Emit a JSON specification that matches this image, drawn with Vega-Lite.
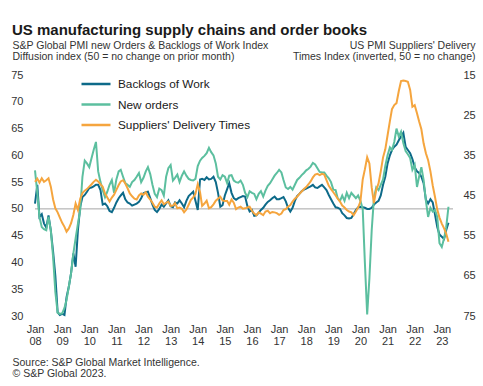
{
 "$schema": "https://vega.github.io/schema/vega-lite/v6.json",
 "width": 418,
 "height": 241,
 "autosize": {"type": "none"},
 "padding": {"left": 35, "top": 75, "right": 30, "bottom": 70},
 "background": "white",
 "config": {
  "font": "Liberation Sans",
  "view": {"stroke": null},
  "axis": {"grid": false, "domain": false, "ticks": false, "labelFont": "Liberation Sans", "labelFontSize": 11, "labelColor": "#333333", "titleFont": "Liberation Sans", "titleFontWeight": "normal", "titleColor": "#333333"}
 },
 "title": {"text": "US manufacturing supply chains and order books", "anchor": "start", "frame": "group", "dx": -23, "dy": 2, "fontSize": 15, "fontWeight": "bold", "color": "#1a1a1a", "font": "Liberation Sans"},
 "datasets": {
  "pmi": [
   {"date":"2008-01-01","backlogs":51,"new_orders":57.2,"delivery":41.6},
   {"date":"2008-02-01","backlogs":54.5,"new_orders":53,"delivery":40.8},
   {"date":"2008-03-01","backlogs":48.5,"new_orders":48.5,"delivery":41.8},
   {"date":"2008-04-01","backlogs":49,"new_orders":46.6,"delivery":40.7},
   {"date":"2008-05-01","backlogs":47.3,"new_orders":46.2,"delivery":41.6},
   {"date":"2008-06-01","backlogs":46.5,"new_orders":46,"delivery":41.2},
   {"date":"2008-07-01","backlogs":48.8,"new_orders":48.5,"delivery":40.7},
   {"date":"2008-08-01","backlogs":46,"new_orders":46,"delivery":42.8},
   {"date":"2008-09-01","backlogs":42,"new_orders":41,"delivery":46},
   {"date":"2008-10-01","backlogs":37.5,"new_orders":34.5,"delivery":48.2},
   {"date":"2008-11-01","backlogs":30.7,"new_orders":30.6,"delivery":49.2},
   {"date":"2008-12-01","backlogs":30.2,"new_orders":30.4,"delivery":50.5},
   {"date":"2009-01-01","backlogs":30.4,"new_orders":30.5,"delivery":51.8},
   {"date":"2009-02-01","backlogs":30.2,"new_orders":31.5,"delivery":52.8},
   {"date":"2009-03-01","backlogs":33.5,"new_orders":33,"delivery":54},
   {"date":"2009-04-01","backlogs":35.5,"new_orders":35.5,"delivery":53.2},
   {"date":"2009-05-01","backlogs":38,"new_orders":38,"delivery":51.9},
   {"date":"2009-06-01","backlogs":41.7,"new_orders":41.7,"delivery":49.8},
   {"date":"2009-07-01","backlogs":39.2,"new_orders":44.5,"delivery":47},
   {"date":"2009-08-01","backlogs":46,"new_orders":47.2,"delivery":48.6},
   {"date":"2009-09-01","backlogs":50.4,"new_orders":49.8,"delivery":45.8},
   {"date":"2009-10-01","backlogs":52.2,"new_orders":56,"delivery":44.4},
   {"date":"2009-11-01","backlogs":52.6,"new_orders":59,"delivery":43.8},
   {"date":"2009-12-01","backlogs":53.2,"new_orders":58.5,"delivery":43.4},
   {"date":"2010-01-01","backlogs":53.9,"new_orders":57.8,"delivery":42.8},
   {"date":"2010-02-01","backlogs":54,"new_orders":59.5,"delivery":42.2},
   {"date":"2010-03-01","backlogs":54.2,"new_orders":61,"delivery":41.6},
   {"date":"2010-04-01","backlogs":54.5,"new_orders":62.5,"delivery":41.1},
   {"date":"2010-05-01","backlogs":54.5,"new_orders":57,"delivery":41.5},
   {"date":"2010-06-01","backlogs":53.5,"new_orders":55,"delivery":42.2},
   {"date":"2010-07-01","backlogs":50.8,"new_orders":53.5,"delivery":42.8},
   {"date":"2010-08-01","backlogs":51,"new_orders":52.2,"delivery":44.5},
   {"date":"2010-09-01","backlogs":50.5,"new_orders":53.2,"delivery":45.5},
   {"date":"2010-10-01","backlogs":49.6,"new_orders":54.5,"delivery":46.5},
   {"date":"2010-11-01","backlogs":49.4,"new_orders":55.4,"delivery":45.5},
   {"date":"2010-12-01","backlogs":50.2,"new_orders":53,"delivery":44.8},
   {"date":"2011-01-01","backlogs":51.2,"new_orders":55.5,"delivery":43.6},
   {"date":"2011-02-01","backlogs":52,"new_orders":57,"delivery":42.4},
   {"date":"2011-03-01","backlogs":52.5,"new_orders":57.3,"delivery":41.5},
   {"date":"2011-04-01","backlogs":53,"new_orders":56,"delivery":41.2},
   {"date":"2011-05-01","backlogs":51.8,"new_orders":54.8,"delivery":42},
   {"date":"2011-06-01","backlogs":51.2,"new_orders":54.5,"delivery":43.2},
   {"date":"2011-07-01","backlogs":51,"new_orders":54.1,"delivery":44.5},
   {"date":"2011-08-01","backlogs":50.6,"new_orders":55,"delivery":45.2},
   {"date":"2011-09-01","backlogs":50.8,"new_orders":55.4,"delivery":45.8},
   {"date":"2011-10-01","backlogs":51,"new_orders":56,"delivery":46},
   {"date":"2011-11-01","backlogs":51.3,"new_orders":56.7,"delivery":45},
   {"date":"2011-12-01","backlogs":52,"new_orders":55,"delivery":44.5},
   {"date":"2012-01-01","backlogs":52.9,"new_orders":55.8,"delivery":44.8},
   {"date":"2012-02-01","backlogs":53.1,"new_orders":57,"delivery":44.2},
   {"date":"2012-03-01","backlogs":53.2,"new_orders":57.8,"delivery":45.3},
   {"date":"2012-04-01","backlogs":52,"new_orders":56.5,"delivery":46},
   {"date":"2012-05-01","backlogs":50.8,"new_orders":54.5,"delivery":46.8},
   {"date":"2012-06-01","backlogs":49.8,"new_orders":52.8,"delivery":47.8},
   {"date":"2012-07-01","backlogs":49.4,"new_orders":52.2,"delivery":48},
   {"date":"2012-08-01","backlogs":50,"new_orders":53.8,"delivery":47},
   {"date":"2012-09-01","backlogs":50.8,"new_orders":53.5,"delivery":46.2},
   {"date":"2012-10-01","backlogs":50.4,"new_orders":52.5,"delivery":47.2},
   {"date":"2012-11-01","backlogs":51,"new_orders":56,"delivery":46.8},
   {"date":"2012-12-01","backlogs":51.6,"new_orders":57.6,"delivery":46.5},
   {"date":"2013-01-01","backlogs":50.5,"new_orders":58.2,"delivery":47.6},
   {"date":"2013-02-01","backlogs":50.3,"new_orders":55.3,"delivery":47.5},
   {"date":"2013-03-01","backlogs":51.2,"new_orders":55.8,"delivery":46.9},
   {"date":"2013-04-01","backlogs":51,"new_orders":56.4,"delivery":48.2},
   {"date":"2013-05-01","backlogs":51.6,"new_orders":55,"delivery":48},
   {"date":"2013-06-01","backlogs":51,"new_orders":56.2,"delivery":48.3},
   {"date":"2013-07-01","backlogs":50.3,"new_orders":57,"delivery":49.2},
   {"date":"2013-08-01","backlogs":51.5,"new_orders":56.2,"delivery":48.5},
   {"date":"2013-09-01","backlogs":52.4,"new_orders":55.6,"delivery":47.3},
   {"date":"2013-10-01","backlogs":52.8,"new_orders":55.4,"delivery":46.1},
   {"date":"2013-11-01","backlogs":53.2,"new_orders":55.3,"delivery":45.5},
   {"date":"2013-12-01","backlogs":51.5,"new_orders":55.6,"delivery":44.6},
   {"date":"2014-01-01","backlogs":49.8,"new_orders":58,"delivery":42.2},
   {"date":"2014-02-01","backlogs":55.5,"new_orders":59,"delivery":44.2},
   {"date":"2014-03-01","backlogs":55.6,"new_orders":59.5,"delivery":47.6},
   {"date":"2014-04-01","backlogs":55.4,"new_orders":59.9,"delivery":47},
   {"date":"2014-05-01","backlogs":55.9,"new_orders":60.4,"delivery":46.3},
   {"date":"2014-06-01","backlogs":55.5,"new_orders":61.4,"delivery":48.2},
   {"date":"2014-07-01","backlogs":55.6,"new_orders":60.6,"delivery":47.9},
   {"date":"2014-08-01","backlogs":56,"new_orders":60,"delivery":47.2},
   {"date":"2014-09-01","backlogs":55,"new_orders":58.5,"delivery":46.3},
   {"date":"2014-10-01","backlogs":53,"new_orders":56,"delivery":45.8},
   {"date":"2014-11-01","backlogs":50.4,"new_orders":55.5,"delivery":45.3},
   {"date":"2014-12-01","backlogs":50.7,"new_orders":56.3,"delivery":46.2},
   {"date":"2015-01-01","backlogs":52.5,"new_orders":56,"delivery":46.4},
   {"date":"2015-02-01","backlogs":53.7,"new_orders":54.8,"delivery":46.4},
   {"date":"2015-03-01","backlogs":54.8,"new_orders":56.2,"delivery":47.3},
   {"date":"2015-04-01","backlogs":53,"new_orders":56.3,"delivery":46},
   {"date":"2015-05-01","backlogs":52,"new_orders":55.3,"delivery":46.8},
   {"date":"2015-06-01","backlogs":51.7,"new_orders":55,"delivery":48.4},
   {"date":"2015-07-01","backlogs":52,"new_orders":54.9,"delivery":48},
   {"date":"2015-08-01","backlogs":52.2,"new_orders":55.3,"delivery":47.8},
   {"date":"2015-09-01","backlogs":52.4,"new_orders":54.5,"delivery":48.3},
   {"date":"2015-10-01","backlogs":52.3,"new_orders":53,"delivery":48.2},
   {"date":"2015-11-01","backlogs":50.5,"new_orders":52.2,"delivery":48},
   {"date":"2015-12-01","backlogs":49.5,"new_orders":53.3,"delivery":47.8},
   {"date":"2016-01-01","backlogs":49.8,"new_orders":53,"delivery":48.8},
   {"date":"2016-02-01","backlogs":48.7,"new_orders":52.8,"delivery":49.5},
   {"date":"2016-03-01","backlogs":48.8,"new_orders":51.8,"delivery":49.9},
   {"date":"2016-04-01","backlogs":49.3,"new_orders":52.8,"delivery":49.2},
   {"date":"2016-05-01","backlogs":49.8,"new_orders":53.3,"delivery":49.5},
   {"date":"2016-06-01","backlogs":50.2,"new_orders":52.3,"delivery":49.9},
   {"date":"2016-07-01","backlogs":50.8,"new_orders":53.4,"delivery":49},
   {"date":"2016-08-01","backlogs":51.3,"new_orders":54.3,"delivery":48.8},
   {"date":"2016-09-01","backlogs":51.6,"new_orders":54.8,"delivery":49.4},
   {"date":"2016-10-01","backlogs":52,"new_orders":55.5,"delivery":49.1},
   {"date":"2016-11-01","backlogs":52.3,"new_orders":56.2,"delivery":49.2},
   {"date":"2016-12-01","backlogs":51.8,"new_orders":56.7,"delivery":49.4},
   {"date":"2017-01-01","backlogs":51.8,"new_orders":57.3,"delivery":49.8},
   {"date":"2017-02-01","backlogs":52,"new_orders":56.8,"delivery":49.5},
   {"date":"2017-03-01","backlogs":52.2,"new_orders":55.4,"delivery":48.6},
   {"date":"2017-04-01","backlogs":51.4,"new_orders":54,"delivery":48.4},
   {"date":"2017-05-01","backlogs":50.2,"new_orders":53.7,"delivery":47.8},
   {"date":"2017-06-01","backlogs":49.5,"new_orders":54.1,"delivery":47.4},
   {"date":"2017-07-01","backlogs":50.2,"new_orders":53.6,"delivery":46.5},
   {"date":"2017-08-01","backlogs":51.5,"new_orders":54.5,"delivery":45.8},
   {"date":"2017-09-01","backlogs":52.4,"new_orders":55.4,"delivery":45.3},
   {"date":"2017-10-01","backlogs":52.8,"new_orders":55.8,"delivery":44.6},
   {"date":"2017-11-01","backlogs":53.3,"new_orders":56.3,"delivery":44},
   {"date":"2017-12-01","backlogs":53.6,"new_orders":56.7,"delivery":43.4},
   {"date":"2018-01-01","backlogs":53.8,"new_orders":57.2,"delivery":42.9},
   {"date":"2018-02-01","backlogs":54,"new_orders":57.5,"delivery":42.2},
   {"date":"2018-03-01","backlogs":54.2,"new_orders":57.9,"delivery":41.5},
   {"date":"2018-04-01","backlogs":54.5,"new_orders":58.6,"delivery":40.5},
   {"date":"2018-05-01","backlogs":54,"new_orders":58.3,"delivery":39.8},
   {"date":"2018-06-01","backlogs":53.9,"new_orders":57.6,"delivery":39.6},
   {"date":"2018-07-01","backlogs":54.2,"new_orders":56.9,"delivery":39.9},
   {"date":"2018-08-01","backlogs":54.5,"new_orders":56.8,"delivery":39.6},
   {"date":"2018-09-01","backlogs":54,"new_orders":56.8,"delivery":39.8},
   {"date":"2018-10-01","backlogs":53.5,"new_orders":56.2,"delivery":41.2},
   {"date":"2018-11-01","backlogs":52.6,"new_orders":55.7,"delivery":42.6},
   {"date":"2018-12-01","backlogs":51.8,"new_orders":55,"delivery":43.4},
   {"date":"2019-01-01","backlogs":51,"new_orders":53.6,"delivery":44.2},
   {"date":"2019-02-01","backlogs":50.3,"new_orders":53.5,"delivery":45},
   {"date":"2019-03-01","backlogs":50.2,"new_orders":52,"delivery":45.8},
   {"date":"2019-04-01","backlogs":50,"new_orders":51.5,"delivery":46.5},
   {"date":"2019-05-01","backlogs":49.2,"new_orders":52.5,"delivery":47.5},
   {"date":"2019-06-01","backlogs":48.8,"new_orders":51.5,"delivery":48},
   {"date":"2019-07-01","backlogs":48.3,"new_orders":53,"delivery":48.6},
   {"date":"2019-08-01","backlogs":48.2,"new_orders":52,"delivery":49},
   {"date":"2019-09-01","backlogs":48.3,"new_orders":53,"delivery":49.2},
   {"date":"2019-10-01","backlogs":49,"new_orders":52.5,"delivery":49.9},
   {"date":"2019-11-01","backlogs":49.8,"new_orders":52,"delivery":49},
   {"date":"2019-12-01","backlogs":50.3,"new_orders":52.5,"delivery":48},
   {"date":"2020-01-01","backlogs":50.4,"new_orders":51.5,"delivery":46.5},
   {"date":"2020-02-01","backlogs":50.3,"new_orders":50,"delivery":41},
   {"date":"2020-03-01","backlogs":50.2,"new_orders":40,"delivery":38.5},
   {"date":"2020-04-01","backlogs":50,"new_orders":30.3,"delivery":35.5},
   {"date":"2020-05-01","backlogs":50,"new_orders":37,"delivery":37},
   {"date":"2020-06-01","backlogs":50.2,"new_orders":46,"delivery":43},
   {"date":"2020-07-01","backlogs":50.8,"new_orders":52,"delivery":46.9},
   {"date":"2020-08-01","backlogs":51.2,"new_orders":54,"delivery":43.6},
   {"date":"2020-09-01","backlogs":51.5,"new_orders":53.5,"delivery":42},
   {"date":"2020-10-01","backlogs":52.5,"new_orders":54.5,"delivery":39},
   {"date":"2020-11-01","backlogs":54.5,"new_orders":55.5,"delivery":35.5},
   {"date":"2020-12-01","backlogs":56,"new_orders":58,"delivery":33.5},
   {"date":"2021-01-01","backlogs":58.5,"new_orders":60,"delivery":30},
   {"date":"2021-02-01","backlogs":60,"new_orders":61.5,"delivery":26.5},
   {"date":"2021-03-01","backlogs":61,"new_orders":61,"delivery":23.5},
   {"date":"2021-04-01","backlogs":61.6,"new_orders":62.5,"delivery":22.5},
   {"date":"2021-05-01","backlogs":62,"new_orders":65,"delivery":22},
   {"date":"2021-06-01","backlogs":62.8,"new_orders":63.5,"delivery":19},
   {"date":"2021-07-01","backlogs":63.5,"new_orders":64.4,"delivery":16.5},
   {"date":"2021-08-01","backlogs":64.2,"new_orders":62.3,"delivery":16.4},
   {"date":"2021-09-01","backlogs":61.6,"new_orders":60.8,"delivery":16.5},
   {"date":"2021-10-01","backlogs":61,"new_orders":60.2,"delivery":16.7},
   {"date":"2021-11-01","backlogs":60.4,"new_orders":59.5,"delivery":18.7},
   {"date":"2021-12-01","backlogs":59.3,"new_orders":57.3,"delivery":22.9},
   {"date":"2022-01-01","backlogs":57.8,"new_orders":58.2,"delivery":22.5},
   {"date":"2022-02-01","backlogs":57,"new_orders":54.1,"delivery":24.5},
   {"date":"2022-03-01","backlogs":56.7,"new_orders":56,"delivery":26.5},
   {"date":"2022-04-01","backlogs":56,"new_orders":57.8,"delivery":28.5},
   {"date":"2022-05-01","backlogs":54.8,"new_orders":55.4,"delivery":32},
   {"date":"2022-06-01","backlogs":51.7,"new_orders":51.5,"delivery":34.5},
   {"date":"2022-07-01","backlogs":51,"new_orders":48.5,"delivery":36.2},
   {"date":"2022-08-01","backlogs":51.8,"new_orders":50.2,"delivery":39},
   {"date":"2022-09-01","backlogs":51.2,"new_orders":49.5,"delivery":42.5},
   {"date":"2022-10-01","backlogs":49,"new_orders":49.8,"delivery":45.3},
   {"date":"2022-11-01","backlogs":46.6,"new_orders":48.5,"delivery":48.5},
   {"date":"2022-12-01","backlogs":45.2,"new_orders":43.6,"delivery":50.5},
   {"date":"2023-01-01","backlogs":44.8,"new_orders":42.9,"delivery":52},
   {"date":"2023-02-01","backlogs":44.4,"new_orders":44.5,"delivery":53.2},
   {"date":"2023-03-01","backlogs":46,"new_orders":46.5,"delivery":54.5},
   {"date":"2023-04-01","backlogs":47.4,"new_orders":50.4,"delivery":56.5}
  ]
 },
 "data": {"name": "pmi"},
 "layer": [
  {
   "layer": [
    {
     "data": {"values": [{"ref": 50}]},
     "mark": {"type": "rule", "color": "#a6a6a6", "strokeWidth": 1},
     "encoding": {
      "y": {"field": "ref", "type": "quantitative", "scale": {"domain": [30, 75], "nice": false, "zero": false},
       "axis": {"values": [30,35,40,45,50,55,60,65,70,75], "labelPadding": 12, "title": ["S&P Global PMI new Orders & Backlogs of Work Index", "Diffusion index (50 = no change on prior month)"], "titleX": -23, "titleY": -27, "titleAngle": 0, "titleAlign": "left", "titleBaseline": "alphabetic", "titleFontSize": 10.5, "titleLineHeight": 11}}
     }
    },
    {
     "mark": {"type": "line", "strokeWidth": 2},
     "encoding": {
      "x": {"field": "date", "type": "temporal",
       "scale": {"type": "utc", "domain": [{"year": 2008, "month": 1, "date": 1, "utc": true}, {"year": 2023, "month": 6, "date": 1, "utc": true}]},
       "axis": {"tickCount": {"interval": "year", "step": 1}, "labelExpr": "['Jan', utcFormat(datum.value, '%y')]", "labelPadding": 7, "labelLineHeight": 12, "labelAlign": "center", "labelBaseline": "top", "labelFlush": false, "labelOverlap": false,
        "title": ["Source: S&P Global Market Intelligence.", "© S&P Global 2023."], "titleX": -23, "titleY": 49, "titleAlign": "left", "titleBaseline": "alphabetic", "titleFontSize": 10.5, "titleLineHeight": 11.5}},
      "y": {"field": "backlogs", "type": "quantitative", "scale": {"domain": [30, 75], "nice": false, "zero": false},
       "axis": {"values": [30,35,40,45,50,55,60,65,70,75], "labelPadding": 12, "title": ["S&P Global PMI new Orders & Backlogs of Work Index", "Diffusion index (50 = no change on prior month)"], "titleX": -23, "titleY": -27, "titleAngle": 0, "titleAlign": "left", "titleBaseline": "alphabetic", "titleFontSize": 10.5, "titleLineHeight": 11}},
      "color": {"datum": "Backlogs of Work", "type": "nominal",
       "scale": {"domain": ["Backlogs of Work", "New orders", "Suppliers' Delivery Times"], "range": ["#0d6a89", "#5cbf9f", "#f5a53e"]},
       "legend": {"orient": "none", "legendX": 45, "legendY": 1, "title": null, "labelFontSize": 11.8, "labelColor": "#1a1a1a", "labelFont": "Liberation Sans", "symbolType": "stroke", "symbolStrokeWidth": 2.5, "symbolSize": 841, "clipHeight": 16, "rowPadding": 4.5, "labelOffset": 6, "padding": 0}}
     }
    },
    {
     "mark": {"type": "line", "strokeWidth": 2},
     "encoding": {
      "x": {"field": "date", "type": "temporal"},
      "y": {"field": "new_orders", "type": "quantitative", "scale": {"domain": [30, 75], "nice": false, "zero": false},
       "axis": {"values": [30,35,40,45,50,55,60,65,70,75], "labelPadding": 12, "title": ["S&P Global PMI new Orders & Backlogs of Work Index", "Diffusion index (50 = no change on prior month)"], "titleX": -23, "titleY": -27, "titleAngle": 0, "titleAlign": "left", "titleBaseline": "alphabetic", "titleFontSize": 10.5, "titleLineHeight": 11}},
      "color": {"datum": "New orders", "type": "nominal"}
     }
    }
   ]
  },
  {
   "mark": {"type": "line", "strokeWidth": 2},
   "encoding": {
    "x": {"field": "date", "type": "temporal"},
    "y": {"field": "delivery", "type": "quantitative", "scale": {"domain": [15, 75], "reverse": true, "nice": false, "zero": false},
     "axis": {"orient": "right", "values": [15,25,35,45,55,65,75], "labelPadding": 10, "title": ["US PMI Suppliers' Delivery", "Times Index (inverted, 50 = no change)"], "titleX": 22, "titleY": -27, "titleAngle": 0, "titleAlign": "right", "titleBaseline": "alphabetic", "titleFontSize": 10.5, "titleLineHeight": 11}},
    "color": {"datum": "Suppliers' Delivery Times", "type": "nominal"}
   }
  }
 ],
 "resolve": {"scale": {"y": "independent"}}
}
